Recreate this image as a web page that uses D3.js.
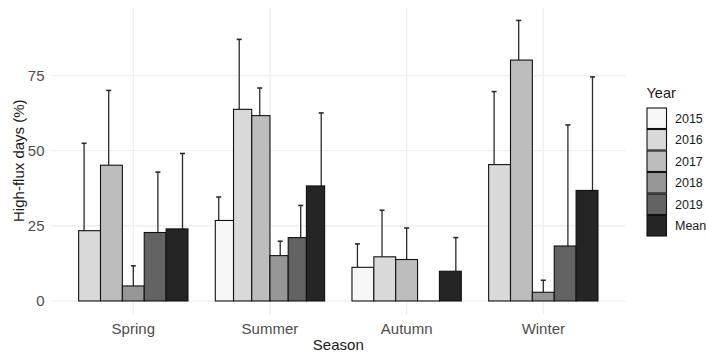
<!DOCTYPE html>
<html>
<head>
<meta charset="utf-8">
<script src="https://cdn.jsdelivr.net/npm/d3@7"></script>
<style>
  html, body { margin: 0; padding: 0; background: #ffffff; }
  svg { display: block; font-family: "Liberation Sans", Arial, Helvetica, sans-serif; }
</style>
</head>
<body>
<svg id="chart" width="706" height="356"></svg>
<script>
// ---- data ----
const seasons = ["Spring", "Summer", "Autumn", "Winter"];
const years = ["2015", "2016", "2017", "2018", "2019", "Mean"];
const yTicks = [0, 25, 50, 75];

// mean high-flux days (%) per year, in order of `years`; null = no data
const springValues = [null, 23.4, 45.2, 5.0, 22.8, 24.0];
const summerValues = [26.8, 63.8, 61.7, 15.1, 21.1, 38.3];
const autumnValues = [11.2, 14.7, 13.8, 0.0, null, 9.9];
const winterValues = [null, 45.4, 80.2, 2.9, 18.3, 36.8];

// standard deviation (upper error bar length)
const springSd = [null, 29.1, 24.9, 6.7, 20.1, 25.1];
const summerSd = [7.8, 23.3, 9.2, 4.8, 10.7, 24.3];
const autumnSd = [7.8, 15.5, 10.5, 0.0, null, 11.2];
const winterSd = [null, 24.3, 13.2, 4.0, 40.3, 37.8];

const fillColors = ["#f7f7f7", "#d9d9d9", "#bdbdbd", "#969696", "#636363", "#252525"];

// ---- build rows ----
const valueLists = [springValues, summerValues, autumnValues, winterValues];
const sdLists = [springSd, summerSd, autumnSd, winterSd];
const rows = [];
seasons.forEach((s, si) => {
  years.forEach((y, yi) => {
    const v = valueLists[si][yi];
    if (v !== null) rows.push({ season: s, year: y, value: v, sd: sdLists[si][yi] });
  });
});

// ---- layout ----
const svg = d3.select("#chart");
const panel = { left: 51.3, right: 625.3, top: 6.4, bottom: 315 };

const x = d3.scalePoint().domain(seasons).range([panel.left, panel.right]).padding(0.6);
const step = x.step();

const yMax = d3.max(rows, d => d.value + (d.sd || 0));
const y = d3.scaleLinear().domain([-0.05 * yMax, yMax * 1.05]).range([panel.bottom, panel.top]);

const color = d3.scaleOrdinal().domain(years).range(fillColors);

// grid
const grid = svg.append("g");
grid.selectAll("line.h").data(yTicks).join("line")
  .attr("x1", panel.left).attr("x2", panel.right)
  .attr("y1", d => y(d)).attr("y2", d => y(d))
  .attr("stroke", "#ebebeb").attr("stroke-width", 1.1);
grid.selectAll("line.v").data(seasons).join("line")
  .attr("x1", d => x(d)).attr("x2", d => x(d))
  .attr("y1", panel.top + 1.6).attr("y2", panel.bottom)
  .attr("stroke", "#ebebeb").attr("stroke-width", 1.1);

// per-season inner scales
const barScales = {};
const errScales = {};
seasons.forEach(s => {
  const ys = rows.filter(r => r.season === s).map(r => r.year);
  barScales[s] = d3.scaleBand().domain(ys).range([-0.4 * step, 0.4 * step]);
  errScales[s] = d3.scaleBand().domain(ys).range([-0.45 * step, 0.45 * step]);
});

// error bars (upper half only, visible part)
const capW = 5;
const errG = svg.append("g");
rows.filter(r => r.sd > 0).forEach(r => {
  const cx = x(r.season) + errScales[r.season](r.year) + errScales[r.season].bandwidth() / 2;
  errG.append("line")
    .attr("x1", cx).attr("x2", cx)
    .attr("y1", y(r.value)).attr("y2", y(r.value + r.sd))
    .attr("stroke", "#2b2b2b").attr("stroke-width", 1.3);
  errG.append("line")
    .attr("x1", cx - capW / 2).attr("x2", cx + capW / 2)
    .attr("y1", y(r.value + r.sd)).attr("y2", y(r.value + r.sd))
    .attr("stroke", "#2b2b2b").attr("stroke-width", 1.6);
});

// bars (zero-height bars still show their outline as a flat line)
svg.append("g").selectAll("rect").data(rows).join("rect")
  .attr("x", d => x(d.season) + barScales[d.season](d.year))
  .attr("width", d => barScales[d.season].bandwidth())
  .attr("y", d => y(Math.max(0, d.value)))
  .attr("height", d => Math.max(0.01, Math.abs(y(0) - y(d.value))))
  .attr("fill", d => color(d.year))
  .attr("stroke", "#111111").attr("stroke-width", 1.1);

// y axis tick labels
svg.append("g").selectAll("text").data(yTicks).join("text")
  .attr("x", 44.5).attr("y", d => y(d)).attr("dy", "0.36em")
  .attr("text-anchor", "end")
  .attr("font-size", 15).attr("fill", "#4d4d4d")
  .text(d => d);

// x axis tick labels
svg.append("g").selectAll("text").data(seasons).join("text")
  .attr("x", d => x(d)).attr("y", 333.5)
  .attr("text-anchor", "middle")
  .attr("font-size", 15).attr("fill", "#4d4d4d")
  .text(d => d);

// axis titles
svg.append("text")
  .attr("x", (panel.left + panel.right) / 2).attr("y", 350)
  .attr("text-anchor", "middle").attr("font-size", 15).attr("fill", "#1a1a1a")
  .text("Season");
svg.append("text")
  .attr("transform", `translate(23.5, ${(panel.top + panel.bottom) / 2}) rotate(-90)`)
  .attr("text-anchor", "middle").attr("font-size", 15).attr("fill", "#1a1a1a")
  .text("High-flux days (%)");

// legend
const lg = svg.append("g").attr("transform", "translate(646.5, 0)");
lg.append("text").attr("x", 0).attr("y", 97.5)
  .attr("font-size", 14.5).attr("fill", "#1a1a1a").text("Year");
const keyH = 21.5, keyW = 20.5, keyTop = 107.5;
years.forEach((yr, i) => {
  lg.append("rect")
    .attr("x", 0.5).attr("y", keyTop + i * keyH + 0.5)
    .attr("width", keyW - 1).attr("height", keyH - 1)
    .attr("fill", color(yr)).attr("stroke", "#111111").attr("stroke-width", 1.1);
  lg.append("text")
    .attr("x", 28.5).attr("y", keyTop + i * keyH + keyH / 2).attr("dy", "0.36em")
    .attr("font-size", 12.5).attr("fill", "#1a1a1a").text(yr);
});
</script>
</body>
</html>
